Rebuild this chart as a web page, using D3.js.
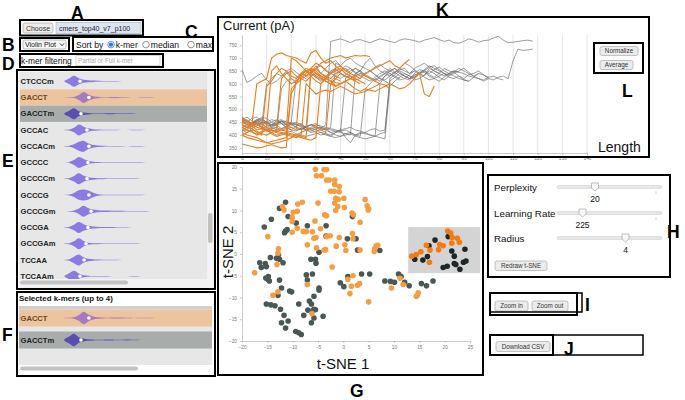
<!DOCTYPE html>
<html><head><meta charset="utf-8">
<script src="https://cdn.jsdelivr.net/npm/d3@7"></script>
<style>
html,body{margin:0;padding:0;background:#fff;}
svg{display:block;}
text{font-family:"Liberation Sans",Arial,sans-serif;}
</style></head><body>
<svg id="c" width="685" height="400"></svg>
<script>
// ---------------- DATA ----------------
const kmers = ['CTCCC','CTCCCm','GACCT','GACCTm','GCCAC','GCCACm','GCCCC','GCCCCm','GCCCG','GCCCGm','GCCGA','GCCGAm','TCCAA','TCCAAm'];
const selectedKmers = ['GACCT','GACCTm'];
const violinBins = [360,380,400,420,440,460,480,500,520,540,560,580,600,620,640,660,680,700,720,740,760,780];
const violinDensity = {
  CTCCC:  [0.1,0.6,1.0,0.5,0.25,0.12,0.08,0.05,0.03,0.02,0,0,0,0,0,0,0,0,0,0,0,0],
  CTCCCm: [0.08,0.5,1.0,0.55,0.28,0.18,0.12,0.08,0.06,0.05,0.04,0.03,0.02,0,0,0,0,0,0,0,0,0],
  GACCT:  [0.02,0.04,0.1,0.45,1.0,0.55,0.25,0.12,0.06,0.05,0.08,0.09,0.06,0.03,0.02,0.02,0.04,0.05,0.03,0.01,0,0],
  GACCTm: [0.15,0.55,1.0,0.45,0.22,0.12,0.06,0.03,0.05,0.09,0.07,0.03,0.04,0.06,0.04,0.02,0,0,0,0,0,0],
  GCCAC:  [0.03,0.1,0.4,1.0,0.6,0.3,0.15,0.08,0.05,0.04,0.03,0.03,0.02,0.02,0.03,0.04,0.03,0.02,0.01,0,0,0],
  GCCACm: [0.03,0.1,0.35,0.8,1.0,0.5,0.25,0.14,0.08,0.05,0.04,0.04,0.03,0.02,0.05,0.06,0.03,0.01,0,0,0,0],
  GCCCC:  [0.02,0.1,0.45,1.0,0.65,0.3,0.15,0.1,0.06,0.05,0.04,0.05,0.06,0.04,0.05,0.06,0.04,0.02,0.01,0,0,0],
  GCCCCm: [0.03,0.12,0.5,1.0,0.55,0.28,0.16,0.1,0.08,0.06,0.05,0.04,0.03,0.05,0.06,0.04,0.02,0,0,0,0,0],
  GCCCG:  [0.02,0.08,0.35,0.85,1.0,0.8,0.4,0.15,0.06,0.04,0.04,0.05,0.06,0.05,0.04,0.03,0.03,0.02,0,0,0,0],
  GCCCGm: [0.02,0.05,0.15,0.5,1.0,0.55,0.3,0.2,0.15,0.12,0.1,0.08,0.07,0.06,0.05,0.05,0.04,0.03,0.02,0.01,0,0],
  GCCGA:  [0.03,0.12,0.5,1.0,0.6,0.3,0.2,0.14,0.1,0.08,0.07,0.06,0.04,0.03,0.02,0,0,0,0,0,0,0],
  GCCGAm: [0.03,0.1,0.45,1.0,0.5,0.2,0.1,0.07,0.06,0.05,0.05,0.04,0.04,0.03,0.04,0.03,0.02,0.01,0,0,0,0],
  TCCAA:  [0.04,0.15,0.6,1.0,0.5,0.22,0.12,0.08,0.06,0.05,0.04,0.03,0.02,0,0,0,0,0,0,0,0,0],
  TCCAAm: [0.1,0.55,1.0,0.5,0.2,0.1,0.06,0.04,0.03,0.03,0.02,0.02,0.02,0.02,0.03,0.03,0.02,0.01,0,0,0,0]
};
const violinMedian = {CTCCC:425,CTCCCm:425,GACCT:462,GACCTm:429,GCCAC:454,GCCACm:462,GCCCC:458,GCCCCm:454,GCCCG:462,GCCCGm:471,GCCGA:458,GCCGAm:450,TCCAA:442,TCCAAm:425};

// current traces (pA), one sample every `traceStep` length units
const traceStep = 2;
const grayTraces = [
  [655,605,615,630,640,615,600,610,630,645,620,610,635,650,640,625,615,630,645,655,640,630,620,640,650,635,625,615,630,640,650,660,645,630,620,640,655,650,635,625,640,660,650,645,630,620,635,640,650,635,625],
  [455,440,450,460,445,430,440,450,455,440,445,430,420,435,440,430,425,440,765,770,775,768,760,770,772,765,760,768,775,770,765,760,770,775,772,768,762,770,775,780,772,765,770,760,758,765,775,770,762,768,770,778,785,770,760,762,765,768,770,766],
  [440,455,430,445,460,450,435,440,425,430,445,450,440,420,415,425,430,420,410,415,420,425,430,420,415,410,420,425,415,420,610,625,640,630,620,635,640,625,615,620,630,640,625,620,630,615,610,625,640,635,620,615,625,630,620,690,735,730,732,735],
  [460,470,455,440,445,450,460,455,445,430,420,435,440,430,425,420,410,405,400,410,415,420,410,400,405,410,400,395,405,410,620,635,650,640,630,625,640,645,630,620,610,625,640,650,645,640,630,625,620,615,625,630,620,615],
  [430,440,425,435,450,445,430,420,425,435,440,445,430,420,410,415,420,425,410,400,395,405,410,400,395,580,600,620,610,630,640,625,615,620,635,650,640,630,660,650,640],
  [470,455,445,460,465,450,440,455,460,450,445,440,435,430,440,445,430,425,420,415,410,405,400,640,650,630,620,610,625,640,660,645,630,620,615,630,645,650,640,655,665,650,640,630,620,615,610],
  [450,460,445,455,470,465,450,440,455,445,450,440,445,430,650,670,640,660,680,690,670,650,660,645,630,640,650,635,620,615,630,645,655,660,640,650],
  [420,410,425,440,430,415,420,410,580,610,620,600,615,630,640,625,610,620,650,660,640,625,630,615,620,640,650,635,620,610,600],
  [465,450,445,455,450,440,435,445,455,440,430,420,425,430,440,435,425,420,430,680,670,690,700,680,670,660,650,665,675,660,650,640,660,680,670,655,640,650,665,670,655,640,630],
  [440,430,445,450,435,425,430,440,445,430,420,415,425,430,420,410,400,405,395,410,420,390,370,400,410,405,400,395,390,385,590,610,625,640,630,615,620,635,650,640,625,615,630,640,650,660,645,630,620,610,620],
  [460,450,465,470,455,445,450,460,445,440,450,620,640,630,650,660,640,625,610,630,650,670,660,640,630,620,610,625,640,650,640,630,620],
  [440,430,445,450,440,600,620,640,630,650,660,645,630,620,640,660,670,655,640,630,620,635,650,660,645,630],
  [415,420,410,405,415,420,410,400,405,410,415,405,400,395,400,405,410,400,395,390,395,400,405,395,390,385,390,395,600,630,650,660,640,630,620,625,640,655,670,660,650,640,635,645,660,650,640,630,640],
  [450,445,440,455,460,450,440,445,450,455,440,430,425,420,430,440,435,430,425,420,415,620,640,660,650,680,700,670,650,640,630,645,660,650,640,660,670,680,665,650,640,630,640,650,645]
];
const orangeTraces = [
  [430,420,440,600,610,620,700,715,720,710,705,700,690,680,720,730,700,680,690,670,650],
  [400,410,420,415,405,400,410,420,620,640,650,630,620,640,660,650,630,620,640,650,660,640,630,620,610,600],
  [450,440,435,445,430,420,425,430,420,415,700,690,670,650,640,660,680,690,700,705,710,700,705,710,708,710,705],
  [460,450,440,445,430,420,410,415,420,425,430,420,640,660,650,630,620,610,600,590,600,610,595,580,570,580,575,570,580,590,600,590,580,585,600,620,640,560,550,590],
  [430,420,415,400,410,420,405,395,400,410,405,400,395,390,660,680,670,650,640,660,670,650,640,630,620,640,650,660,670,680,690,670,660,680,695],
  [365,360,355,350,352,358,362,355,350,352,580,600,620,610,630,640,625,610,600,620,610],
  [440,455,445,430,425,435,650,670,640,620,600,610,630,650,660,640,630,620,610,605,600,610,620,615],
  [470,455,440,450,445,430,420,415,410,405,400,395,390,385,380,390,600,620,610,590,600,610,620,630,640,630,620,610,600],
  [410,400,395,390,380,370,375,380,385,390,560,600,640,630,650,660,640,630,620,640,650,660,640],
  [420,430,425,410,400,590,610,640,660,650,630,620,640,650,630,610,600,620,640],
  [440,430,435,420,425,415,420,410,405,400,395,390,400,600,580,560,570,575,570,580,590,580,570,560,565,570,580,590,600,595,580],
  [400,390,385,380,375,370,365,370,375,380,390,400,410,420,425,430,420,410,600,620,640,630,620,610,600]
];
const currentTicks = [350,400,450,500,550,600,650,700,750];
const lengthTicks = [0,10,20,30,40,50,60,70,80,90,100,110,120,130,140];

// t-SNE embedding
const orangeX = [-5.5,-5.3,-4.3,-3.8,-3.3,-3.3,-2.8,-1.7,-1.7,-0.8,-2.5,-1.8,-0.8,-1.5,-1,0.1,-1.7,-1.1,0.2,-1.5,-5,-9,-8.1,-9.9,-9.1,-12,-11.7,-10.1,-10.1,-9.1,-10.1,-7.9,-7.3,-5.6,-6.1,-5.8,-5.4,-7.1,-4.5,-3.3,-3.7,-3.3,-2.6,-0.8,-1.4,-5.3,-3.8,-3.5,0.3,0.5,1.7,2,1.9,1.8,3.3,3.3,4.3,4.7,5,4.9,6.2,6.5,6.8,6.1,-14.9,-12.8,-12.9,-13.1,-17.5,-13.9,-12.9,-2.2,0.9,1.9,1.6,1.3,2.8,3.2,5,9.5,11.2,11.8,14.4,14.6,14.8,-7.1,-6.2,13.5,14.4,15.3,16.4,17.1,17,18.8,19,19.7,20.6,21.2,21.5,21.4,22.5,22.9];
const orangeY = [19.5,18,18,19.4,19.4,17,17,17,16,15.5,14.4,14.4,14.3,12.8,12.6,12.8,11.7,10.9,10.7,10,11.7,11.5,11.9,9.6,9.8,10.9,10.1,8.4,7.5,5.9,5,5.2,5.2,7.6,5.1,3.6,3.8,2.1,5.8,4,9,8.8,4.2,3.8,1.8,1.4,0.9,1,2.1,0.8,9.4,9,3.5,4.7,7.3,0.9,12.5,11.1,10.4,10.1,1.2,1.9,2,0.6,4,1.2,0.2,-2.4,-4.3,-9.5,-8.7,-3,-5.8,-5,-7.4,-9.1,-7.2,-6.8,-11,-7.8,-5.6,-7,-9.7,-9.5,-8.9,-7,-13.7,-0.5,-0.1,0.5,2,0.9,-1.9,1,2.2,1.9,5.3,4.8,3.8,2.5,3.6,2.7];
const grayX = [-15.6,-14.2,-12.6,-11.4,-10.9,-11.4,-11.6,-11.1,-9.3,-7.1,-16.5,-16.2,-15.4,-15.2,-14.4,-13.2,-12.8,-12.6,-11.9,-15.3,-14.9,-14.8,-14.6,-12.6,-12.2,-12.9,-10.6,-10.2,-15.2,-14.3,-13.5,-12.4,-12.2,-11.7,-10.9,-11.4,-9.4,-8.8,-8.3,-8.8,-7.8,-7,-6.7,-6.3,-6.1,-5.8,-5.5,-6.3,-5.8,-4,-5.8,-4.8,-4.8,-7.1,-7.3,-6.1,-6.4,-5.5,-5.4,-4.8,-3.4,-3.4,1.8,0.8,2.5,2.8,7.2,-0.6,0.1,0.9,3.6,5.2,8.2,9.3,10.1,10.9,11.4,12.1,13,15.4,16.4,17.7,14.1,15.7,16.6,16.9,18.1,20.7,21.4,21.9,21.9,22.2,23,19.7,20.5,23.7,24.2,24];
const grayY = [6.2,8,10.5,11.9,8.6,5.3,4.9,5.6,7.1,6.5,-2,-3.1,-2.2,-2.9,-0.8,-1,-0.2,-1.2,-2,-5.5,-5.8,-5.2,-6.2,-6,-7.8,-9.5,-8.5,-8.7,-11.5,-11.7,-11.9,-12.7,-15.8,-14.1,-15.4,-17,-17.8,-18.1,-18.5,-11.5,-14.1,-12.9,-10.8,-11.5,-13.1,-12.7,-12.8,-15.8,-14.7,-14.3,-9.7,-7.8,-8.3,-6,-4.8,-4.6,-1.2,-1.2,-2.1,0.4,4.1,6.5,8.6,3.5,3.5,0.9,0.8,-6.6,-7.5,-5.2,-4.6,-4.6,-6.2,-6.3,-6.5,-4.6,-5.2,-6.5,-7.3,-6.8,-7.3,-6.2,-1.2,-1.4,-0.6,1.9,3.2,4,0.7,-0.5,-2.2,-2.4,-3.5,-3.1,-2.8,-1.9,-1.6,1.1];
const selX = [12.8, 27];
const selY = [-4.4, 6.2];
const tsneXTicks = [-20,-15,-10,-5,0,5,10,15,20,25];
const tsneYTicks = [-20,-15,-10,-5,0,5,10,15,20];

// ---------------- DRAW ----------------
const CAL = 'Lato, "Open Sans", sans-serif';
const svg = d3.select('#c');
svg.append('rect').attr('width',685).attr('height',400).attr('fill','#fff');

function button(x,y,w,h,label,fs){
  fs = fs||6.5;
  svg.append('rect').attr('x',x).attr('y',y).attr('width',w).attr('height',h).attr('rx',2)
    .attr('fill','#ececec').attr('stroke','#aaa').attr('stroke-width',0.7);
  svg.append('text').attr('x',x+w/2).attr('y',y+h/2+fs*0.36).attr('text-anchor','middle')
    .attr('font-size',fs).attr('fill','#333').text(label);
}
const boxes = [];
function abox(x,y,w,h,sw){ boxes.push({x,y,w,h,sw:sw||2}); }
function letter(t,x,y){
  svg.append('text').attr('x',x).attr('y',y).attr('font-size',17.5).attr('font-weight','bold').attr('fill','#000').text(t);
}

// ---- A
button(23,23,30,10,'Choose',7);
svg.append('rect').attr('x',56).attr('y',22.5).attr('width',85).attr('height',11).attr('fill','#dde5ef').attr('stroke','#9fb0c2').attr('stroke-width',0.6);
svg.append('text').attr('x',59).attr('y',31).attr('font-size',7).attr('fill','#223').text('cmers_top40_v7_p100');
abox(20,20,123,15.5);

// ---- B
svg.append('rect').attr('x',23).attr('y',40).attr('width',43).attr('height',9).attr('rx',2).attr('fill','#f6f6f6').attr('stroke','#999').attr('stroke-width',0.6);
svg.append('text').attr('x',25).attr('y',47.3).attr('font-size',7).attr('fill','#111').text('Violin Plot');
svg.append('path').attr('d','M60,43.5 L62,45.7 L64,43.5').attr('fill','none').attr('stroke','#222').attr('stroke-width',0.9);
abox(20,38,49,13);

// ---- C
svg.append('text').attr('x',76).attr('y',48).attr('font-size',8.6).attr('fill','#111').text('Sort by');
[[111,'k-mer',true],[146,'median',false],[191,'max',false]].forEach(([cx,lab,on])=>{
  svg.append('circle').attr('cx',cx).attr('cy',44.6).attr('r',3.3).attr('fill','#fff').attr('stroke',on?'#2f7fd8':'#777').attr('stroke-width',0.8);
  if(on) svg.append('circle').attr('cx',cx).attr('cy',44.6).attr('r',2.2).attr('fill','#2f7fd8');
  svg.append('text').attr('x',cx+4.8).attr('y',48).attr('font-size',8.6).attr('fill','#111').text(lab);
});
abox(73,37,140,14);

// ---- D
svg.append('text').attr('x',21).attr('y',63.8).attr('font-size',8.4).attr('fill','#111').text('k-mer filtering');
svg.append('rect').attr('x',76).attr('y',55.5).attr('width',84).attr('height',10).attr('fill','#fff').attr('stroke','#bbb').attr('stroke-width',0.6);
svg.append('text').attr('x',78).attr('y',63).attr('font-size',6.3).attr('fill','#aaa').text('Partial or Full k-mer');
abox(20,54,143,13);

// ---- Violins
const vx = d3.scaleLinear().domain([350,800]).range([62,170]);
const rowBg = {GACCT:'#ecc4a0', GACCTm:'#a8adab'};
const violinFill = {GACCT:'#a67cc0', GACCTm:'#5a4fb0'};
const labelFill = {GACCT:'#6e4420'};
function drawViolin(g, k, cy, hh){
  const area = d3.area().x((d,i)=>vx(violinBins[i])).y0(d=>cy-d*hh).y1(d=>cy+d*hh).curve(d3.curveCatmullRom);
  g.append('path').attr('d',area(violinDensity[k])).attr('fill',violinFill[k]||'#8a7be2');
  g.append('circle').attr('cx',vx(violinMedian[k])).attr('cy',cy).attr('r',1.8).attr('fill','#fff');
}

// ---- E list (scrolled: first row only partly visible)
const listTop = 72, listBottom = 279;
svg.append('rect').attr('x',19).attr('y',71).attr('width',195).attr('height',217).attr('fill','#f3f3f3');
svg.append('rect').attr('x',20).attr('y',listTop).attr('width',187).attr('height',listBottom-listTop).attr('fill','#e7e7e7');
svg.append('clipPath').attr('id','listClip').append('rect').attr('x',20).attr('y',listTop).attr('width',187).attr('height',listBottom-listTop);
const listG = svg.append('g').attr('clip-path','url(#listClip)');
const rowY = d3.scalePoint().domain(kmers).range([65, 65+16.25*(kmers.length-1)]);
kmers.forEach(k=>{
  const cy = rowY(k);
  if(rowBg[k]) listG.append('rect').attr('x',20).attr('y',cy-8.12).attr('width',187).attr('height',16.25).attr('fill',rowBg[k]);
  drawViolin(listG,k,cy,5.5);
  if(cy-3 > listTop)   // label hidden when its row is scrolled out of view
    listG.append('text').attr('x',20.5).attr('y',cy+2.6).attr('font-family','"Liberation Serif",serif').attr('font-weight','bold')
      .attr('font-size',7.6).attr('fill',labelFill[k]||'#222').text(k);
});
svg.append('rect').attr('x',208).attr('y',213).attr('width',4.5).attr('height',30).attr('rx',2).attr('fill','#c2c2c2');
svg.append('rect').attr('x',20).attr('y',280.5).attr('width',108).attr('height',4).attr('rx',2).attr('fill','#c2c2c2');
abox(17,70,198,219);

// ---- F selected
svg.append('text').attr('x',19).attr('y',300.5).attr('font-size',7.9).attr('font-weight','bold').attr('fill','#111').text('Selected k-mers (up to 4)');
svg.append('rect').attr('x',19).attr('y',306).attr('width',193).attr('height',59).attr('fill','#e7e7e7');
svg.append('rect').attr('x',19).attr('y',306).attr('width',193).attr('height',3).attr('fill','#cfcfcf');
const selY2 = d3.scalePoint().domain(selectedKmers).range([318,340]);
selectedKmers.forEach(k=>{
  const cy = selY2(k);
  svg.append('rect').attr('x',19).attr('y',cy-8.5).attr('width',193).attr('height',17).attr('fill',rowBg[k]);
  drawViolin(svg,k,cy,6.3);
  svg.append('text').attr('x',20.5).attr('y',cy+2.6).attr('font-family','"Liberation Serif",serif').attr('font-weight','bold')
    .attr('font-size',7.6).attr('fill',labelFill[k]||'#222').text(k);
});
svg.append('rect').attr('x',20).attr('y',366.5).attr('width',118).attr('height',4).attr('rx',2).attr('fill','#c2c2c2');
abox(17,292,198,84);

// ---- K current traces
const kx = d3.scaleLinear().domain([0,140]).range([242,587]);
const ky = d3.scaleLinear().domain([330,790]).range([153,35]);
svg.append('text').attr('x',223).attr('y',30).attr('font-family',CAL).attr('font-size',13).attr('fill','#111').text('Current (pA)');
svg.append('g').selectAll('line').data(lengthTicks.slice(1)).join('line')
  .attr('x1',d=>kx(d)).attr('x2',d=>kx(d)).attr('y1',35).attr('y2',153).attr('stroke','#dedede').attr('stroke-width',0.8);
const kAxisL = svg.append('g').attr('transform','translate(242,0)').call(d3.axisLeft(ky).tickValues(currentTicks).tickSize(2).tickSizeOuter(0));
const kAxisB = svg.append('g').attr('transform','translate(0,153)').call(d3.axisBottom(kx).tickValues(lengthTicks).tickSize(2).tickSizeOuter(0));
[kAxisL,kAxisB].forEach(a=>{ a.selectAll('text').attr('font-size',4.8).attr('fill','#777'); a.selectAll('path,line').attr('stroke','#aaa').attr('stroke-width',0.6); });
kAxisB.selectAll('text').attr('dy','0.5em');
const traceLine = d3.line().x((d,i)=>kx(i*traceStep)).y(d=>ky(d));
svg.append('g').selectAll('path').data(grayTraces).join('path').attr('d',traceLine)
  .attr('fill','none').attr('stroke','#6e6e6e').attr('stroke-opacity',0.75).attr('stroke-width',0.9);
svg.append('g').selectAll('path').data(orangeTraces).join('path').attr('d',traceLine)
  .attr('fill','none').attr('stroke','#e67f22').attr('stroke-width',1.1);
svg.append('text').attr('x',598).attr('y',152).attr('font-family',CAL).attr('font-size',14).attr('fill','#111').text('Length');
button(600,46.5,38,9,'Normalize',6.3);
button(600,60.5,33,9,'Average',6.3);
abox(594,43,49,30);
abox(218,17,431,140);

// ---- G t-SNE
const sx = d3.scaleLinear().domain([-20,25]).range([242,470]);
const sy = d3.scaleLinear().domain([-20,20]).range([341,167]);
svg.append('rect').attr('x',sx(selX[0])).attr('y',sy(selY[1])).attr('width',sx(selX[1])-sx(selX[0])).attr('height',sy(selY[0])-sy(selY[1])).attr('fill','#d4d4d4');
const gAxisB = svg.append('g').attr('transform','translate(0,341)').call(d3.axisBottom(sx).tickValues(tsneXTicks).tickSize(2).tickSizeOuter(0));
const gAxisL = svg.append('g').attr('transform','translate(242,0)').call(d3.axisLeft(sy).tickValues(tsneYTicks).tickSize(2).tickSizeOuter(0));
[gAxisL,gAxisB].forEach(a=>{ a.selectAll('text').attr('font-size',4.8).attr('fill','#777'); a.selectAll('path,line').attr('stroke','#aaa').attr('stroke-width',0.6); });
const inSel = (x,y)=> x>=selX[0] && x<=selX[1] && y>=selY[0] && y<=selY[1];
svg.append('g').selectAll('circle').data(grayX.map((x,i)=>[x,grayY[i]])).join('circle')
  .attr('cx',d=>sx(d[0])).attr('cy',d=>sy(d[1])).attr('r',2.8).attr('fill',d=>inSel(d[0],d[1])?'#1d2727':'#4a5855');
svg.append('g').selectAll('circle').data(orangeX.map((x,i)=>[x,orangeY[i]])).join('circle')
  .attr('cx',d=>sx(d[0])).attr('cy',d=>sy(d[1])).attr('r',2.8).attr('fill',d=>inSel(d[0],d[1])?'#f47a12':'#f59d42');
svg.append('text').attr('x',343).attr('y',369).attr('text-anchor','middle').attr('font-family',CAL).attr('font-size',15).attr('fill','#111').text('t-SNE 1');
svg.append('text').attr('transform','translate(233,252) rotate(-90)').attr('text-anchor','middle').attr('font-family',CAL).attr('font-size',15).attr('fill','#111').text('t-SNE 2');
abox(218,163,265,212);

// ---- H sliders
const sliders = [['Perplexity','20',595,187],['Learning Rate','225',582.5,213],['Radius','4',625.5,238]];
sliders.forEach(([lab,val,tx,ty],i)=>{
  svg.append('text').attr('x',494).attr('y',ty+4).attr('font-family',CAL).attr('font-size',9.8).attr('fill','#111').text(lab);
  svg.append('rect').attr('x',557).attr('y',ty-1.5).attr('width',105).attr('height',3).attr('rx',1.5).attr('fill','#e6e6e6').attr('stroke','#cfcfcf').attr('stroke-width',0.5);
  if(i<2) svg.append('line').attr('x1',656).attr('x2',656).attr('y1',ty+4).attr('y2',ty+7).attr('stroke','#bbb').attr('stroke-width',0.6);
  svg.append('path').attr('d',`M${tx-3.5},${ty-4} L${tx+3.5},${ty-4} L${tx+3.5},${ty+1} L${tx},${ty+4} L${tx-3.5},${ty+1} Z`)
    .attr('fill','#f7f7f7').attr('stroke','#999').attr('stroke-width',0.6);
  svg.append('text').attr('x',tx).attr('y',ty+14.5).attr('text-anchor','middle').attr('font-family',CAL).attr('font-size',8.5).attr('fill','#111').text(val);
});
button(495,261,52,9.5,'Redraw t-SNE',6.3);
abox(488,175,182,102);

// ---- I
button(495,301,33,10,'Zoom in',6.3);
button(532,301,36,10,'Zoom out',6.3);
abox(490,293,92,19,1.5);
abox(490,293,87,22);

// ---- J
button(496,341.5,54,10,'Download CSV',6.3);
abox(490,335,153,20,1.5);
abox(490,335,63,20);

// draw annotation boxes on top
svg.append('g').selectAll('rect').data(boxes).join('rect')
  .attr('x',d=>d.x).attr('y',d=>d.y).attr('width',d=>d.w).attr('height',d=>d.h)
  .attr('fill','none').attr('stroke','#000').attr('stroke-width',d=>d.sw);

// letters
letter('A',71,19); letter('B',2,51); letter('C',185,38); letter('D',2,69.5);
letter('E',2,167); letter('F',2,341); letter('G',350,397); letter('H',667,238);
letter('I',585,311); letter('J',564,355); letter('K',436,15.5); letter('L',622,97);
</script></body></html>
